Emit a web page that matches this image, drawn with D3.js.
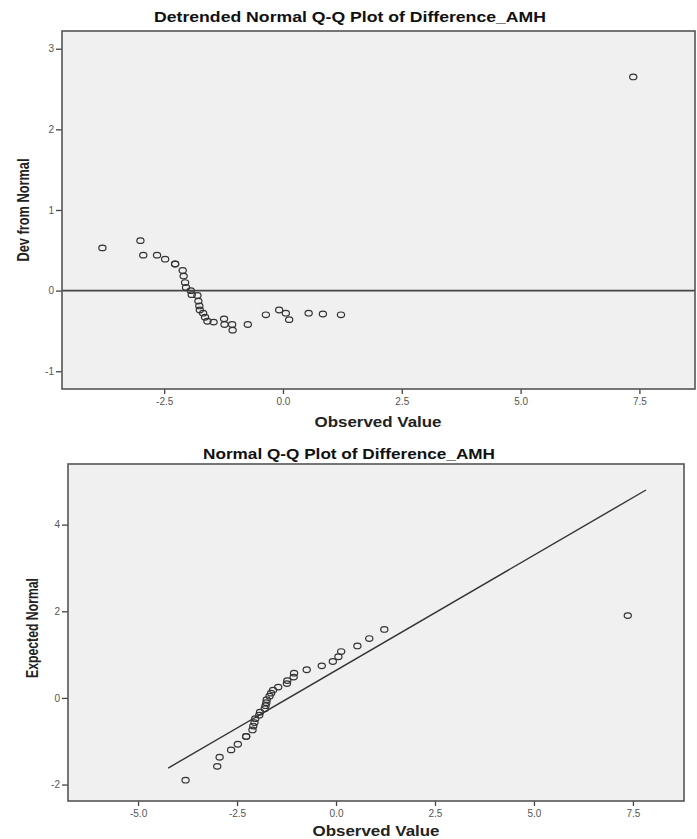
<!DOCTYPE html>
<html>
<head>
<meta charset="utf-8">
<script src="https://cdn.jsdelivr.net/npm/d3@7"></script>
<style>
  body { margin: 0; background: #fff; }
  svg { display: block; }
</style>
</head>
<body>
<div id="chart"></div>
<script>
// observed values (shared by both plots)
const observed = [-3.80, -3.00, -2.94, -2.65, -2.48, -2.27, -2.27, -2.11, -2.09, -2.06, -2.04, -1.94, -1.92,
  -1.80, -1.78, -1.76, -1.75, -1.68, -1.64, -1.59, -1.46, -1.24, -1.23, -1.07, -1.06, -0.74, -0.36, -0.08,
  0.06, 0.13, 0.54, 0.84, 1.22, 7.37];
// detrended deviations (top plot)
const devFromNormal = [0.53, 0.62, 0.44, 0.44, 0.39, 0.33, 0.33, 0.25, 0.18, 0.10, 0.04, 0.00, -0.05,
  -0.06, -0.13, -0.19, -0.24, -0.28, -0.33, -0.38, -0.39, -0.35, -0.42, -0.42, -0.49, -0.42, -0.30, -0.24,
  -0.28, -0.36, -0.28, -0.29, -0.30, 2.65];
// expected normal values (bottom plot)
const expectedNormal = [-1.90, -1.58, -1.37, -1.20, -1.07, -0.89, -0.89, -0.74, -0.65, -0.57, -0.48, -0.40, -0.33,
  -0.25, -0.18, -0.11, -0.04, 0.04, 0.11, 0.18, 0.25, 0.33, 0.40, 0.48, 0.57, 0.65, 0.74, 0.84,
  0.95, 1.07, 1.20, 1.37, 1.58, 1.90];
// reference line of the normal Q-Q plot
const lineObserved = [-4.24, 7.83];
const lineExpected = [-1.62, 4.80];

const topXTicks = [-2.5, 0, 2.5, 5, 7.5];
const topYTicks = [-1, 0, 1, 2, 3];
const botXTicks = [-5, -2.5, 0, 2.5, 5, 7.5];
const botYTicks = [-2, 0, 2, 4];

const W = 697, H = 839;
const svg = d3.select("#chart").append("svg").attr("width", W).attr("height", H);

const tickFont = "'Liberation Sans', Arial, sans-serif";
const locale = d3.formatLocale({ decimal: ".", thousands: ",", grouping: [3], currency: ["", ""], minus: "-" });

function drawPanel(cfg) {
  const x = d3.scaleLinear().domain(cfg.xDomain).range([cfg.left, cfg.right]);
  const y = d3.scaleLinear().domain(cfg.yDomain).range([cfg.bottom, cfg.top]);
  const g = svg.append("g");

  g.append("rect")
    .attr("x", cfg.left).attr("y", cfg.top)
    .attr("width", cfg.right - cfg.left).attr("height", cfg.bottom - cfg.top)
    .attr("fill", "#f0f0f0");

  // axes
  const yAxis = g.append("g")
    .attr("transform", `translate(${cfg.left},0)`)
    .call(d3.axisLeft(y).tickValues(cfg.yTicks).tickSize(6).tickPadding(2).tickFormat(locale.format("d")));
  const xAxis = g.append("g")
    .attr("transform", `translate(0,${cfg.bottom})`)
    .call(d3.axisBottom(x).tickValues(cfg.xTicks).tickSize(5).tickPadding(4).tickFormat(locale.format(".1f")));
  [xAxis, yAxis].forEach(a => {
    a.select(".domain").remove();
    a.selectAll("line").attr("stroke", "#444").attr("stroke-width", 1.3);
    a.selectAll("text").style("font-family", tickFont).style("font-size", "10px").attr("fill", "#555");
  });

  cfg.drawRef(g, x, y);

  g.selectAll("ellipse.pt")
    .data(cfg.points)
    .enter()
    .append("ellipse")
    .attr("class", "pt")
    .attr("cx", d => x(d[0]))
    .attr("cy", d => y(d[1]))
    .attr("rx", 3.6)
    .attr("ry", 2.8)
    .attr("fill", "none")
    .attr("stroke", "#333")
    .attr("stroke-width", 1.2);

  // frame
  g.append("rect")
    .attr("x", cfg.left).attr("y", cfg.top)
    .attr("width", cfg.right - cfg.left).attr("height", cfg.bottom - cfg.top)
    .attr("fill", "none").attr("stroke", "#555").attr("stroke-width", 1.6);

  g.append("text")
    .attr("x", cfg.titleX).attr("y", cfg.titleY)
    .attr("text-anchor", "middle")
    .attr("textLength", cfg.titleLen).attr("lengthAdjust", "spacingAndGlyphs")
    .style("font-family", tickFont).style("font-weight", "bold").style("font-size", "15px")
    .attr("fill", "#111")
    .text(cfg.title);

  g.append("text")
    .attr("x", cfg.xLabelX).attr("y", cfg.xLabelY)
    .attr("text-anchor", "middle")
    .attr("textLength", 127).attr("lengthAdjust", "spacingAndGlyphs")
    .style("font-family", tickFont).style("font-weight", "bold").style("font-size", "15px")
    .attr("fill", "#222")
    .text("Observed Value");

  g.append("text")
    .attr("transform", `translate(${cfg.yLabelX},${cfg.yLabelY}) rotate(-90)`)
    .attr("text-anchor", "middle")
    .attr("textLength", cfg.yLabelLen).attr("lengthAdjust", "spacingAndGlyphs")
    .style("font-family", tickFont).style("font-weight", "bold").style("font-size", "16px")
    .attr("fill", "#222")
    .text(cfg.yLabel);
}

drawPanel({
  left: 62, right: 695, top: 31, bottom: 389,
  xDomain: [-4.65, 8.67], yDomain: [-1.22, 3.22],
  xTicks: topXTicks, yTicks: topYTicks,
  points: observed.map((v, i) => [v, devFromNormal[i]]),
  title: "Detrended Normal Q-Q Plot of Difference_AMH", titleX: 350, titleY: 22, titleLen: 392,
  xLabelX: 378, xLabelY: 427,
  yLabel: "Dev from Normal", yLabelX: 29, yLabelY: 210, yLabelLen: 103,
  drawRef: (g, x, y) => {
    g.append("line")
      .attr("x1", x.range()[0]).attr("x2", x.range()[1])
      .attr("y1", y(0)).attr("y2", y(0))
      .attr("stroke", "#444").attr("stroke-width", 1.6);
  }
});

drawPanel({
  left: 68, right: 684, top: 464, bottom: 801,
  xDomain: [-6.77, 8.79], yDomain: [-2.38, 5.40],
  xTicks: botXTicks, yTicks: botYTicks,
  points: observed.map((v, i) => [v, expectedNormal[i]]),
  title: "Normal Q-Q Plot of Difference_AMH", titleX: 349, titleY: 459, titleLen: 292,
  xLabelX: 376, xLabelY: 836,
  yLabel: "Expected Normal", yLabelX: 38, yLabelY: 628, yLabelLen: 100,
  drawRef: (g, x, y) => {
    g.append("line")
      .attr("x1", x(lineObserved[0])).attr("y1", y(lineExpected[0]))
      .attr("x2", x(lineObserved[1])).attr("y2", y(lineExpected[1]))
      .attr("stroke", "#333").attr("stroke-width", 1.4);
  }
});
</script>
</body>
</html>
